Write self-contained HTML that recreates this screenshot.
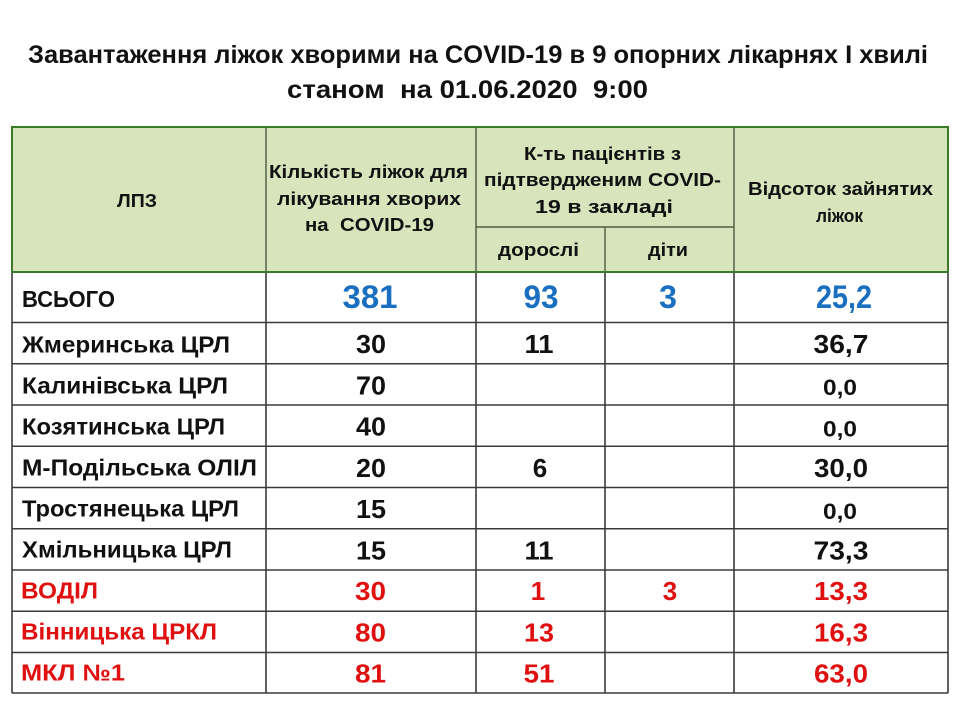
<!DOCTYPE html>
<html>
<head>
<meta charset="utf-8">
<style>
html,body{margin:0;padding:0;background:#fff;}
svg{display:block;}
text{font-family:"Liberation Sans","DejaVu Sans",sans-serif;font-weight:bold;white-space:pre;}
</style>
</head>
<body>
<svg width="960" height="720" viewBox="0 0 960 720" xmlns="http://www.w3.org/2000/svg">
<rect x="0" y="0" width="960" height="720" fill="#fff"/>

<!-- Title -->
<text x="28" y="63" font-size="25" fill="#111" textLength="900" lengthAdjust="spacingAndGlyphs">Завантаження ліжок хворими на COVID-19 в 9 опорних лікарнях І хвилі</text>
<text x="287" y="98" font-size="25" fill="#111" textLength="361" lengthAdjust="spacingAndGlyphs">станом  на 01.06.2020  9:00</text>

<!-- Header background -->
<rect x="12" y="127" width="936" height="145" fill="#d8e4bc"/>

<!-- Body grid -->
<g stroke="#3a3a3a" stroke-width="1.6" fill="none">
  <line x1="12" y1="322.5" x2="948" y2="322.5"/>
  <line x1="12" y1="363.75" x2="948" y2="363.75"/>
  <line x1="12" y1="405" x2="948" y2="405"/>
  <line x1="12" y1="446.25" x2="948" y2="446.25"/>
  <line x1="12" y1="487.5" x2="948" y2="487.5"/>
  <line x1="12" y1="528.75" x2="948" y2="528.75"/>
  <line x1="12" y1="570" x2="948" y2="570"/>
  <line x1="12" y1="611.25" x2="948" y2="611.25"/>
  <line x1="12" y1="652.5" x2="948" y2="652.5"/>
  <line x1="12" y1="693" x2="948" y2="693"/>
  <line x1="12" y1="272" x2="12" y2="693"/>
  <line x1="266" y1="272" x2="266" y2="693"/>
  <line x1="476" y1="272" x2="476" y2="693"/>
  <line x1="605" y1="272" x2="605" y2="693"/>
  <line x1="734" y1="272" x2="734" y2="693"/>
  <line x1="948" y1="272" x2="948" y2="693"/>
</g>

<!-- Header inner lines -->
<g stroke="#4a5a40" stroke-width="1.4" fill="none">
  <line x1="266" y1="127" x2="266" y2="272"/>
  <line x1="476" y1="127" x2="476" y2="272"/>
  <line x1="734" y1="127" x2="734" y2="272"/>
  <line x1="605" y1="227" x2="605" y2="272"/>
  <line x1="476" y1="227" x2="734" y2="227"/>
</g>
<!-- Header outer green border -->
<rect x="12" y="127" width="936" height="145" fill="none" stroke="#3b7a27" stroke-width="2"/>

<!-- Header text -->
<g fill="#111" font-size="18.5">
  <text x="117" y="207" textLength="40" lengthAdjust="spacingAndGlyphs">ЛПЗ</text>
  <text x="269" y="178" textLength="199" lengthAdjust="spacingAndGlyphs">Кількість ліжок для</text>
  <text x="277" y="205" textLength="184" lengthAdjust="spacingAndGlyphs">лікування хворих</text>
  <text x="305" y="231" textLength="129" lengthAdjust="spacingAndGlyphs">на  COVID-19</text>
  <text x="524" y="160" textLength="157" lengthAdjust="spacingAndGlyphs">К-ть пацієнтів з</text>
  <text x="484" y="186" textLength="237" lengthAdjust="spacingAndGlyphs">підтвердженим COVID-</text>
  <text x="535" y="213" textLength="138" lengthAdjust="spacingAndGlyphs">19 в закладі</text>
  <text x="498" y="256" textLength="81" lengthAdjust="spacingAndGlyphs">дорослі</text>
  <text x="648" y="256" textLength="40" lengthAdjust="spacingAndGlyphs">діти</text>
  <text x="748" y="195" textLength="185" lengthAdjust="spacingAndGlyphs">Відсоток зайнятих</text>
  <text x="816" y="222" textLength="47" lengthAdjust="spacingAndGlyphs">ліжок</text>
</g>

<!-- Row names -->
<g fill="#111" font-size="23">
  <text x="22" y="307" textLength="93" lengthAdjust="spacingAndGlyphs">ВСЬОГО</text>
  <text x="22" y="352.5" textLength="208" lengthAdjust="spacingAndGlyphs">Жмеринська ЦРЛ</text>
  <text x="22" y="393.5" textLength="206" lengthAdjust="spacingAndGlyphs">Калинівська ЦРЛ</text>
  <text x="22" y="434.5" textLength="203" lengthAdjust="spacingAndGlyphs">Козятинська ЦРЛ</text>
  <text x="22" y="475.5" textLength="235" lengthAdjust="spacingAndGlyphs">М-Подільська ОЛІЛ</text>
  <text x="22" y="516.5" textLength="217" lengthAdjust="spacingAndGlyphs">Тростянецька ЦРЛ</text>
  <text x="22" y="557.5" textLength="210" lengthAdjust="spacingAndGlyphs">Хмільницька ЦРЛ</text>
</g>
<g fill="#e01010" font-size="23">
  <text x="21" y="598.5" textLength="77" lengthAdjust="spacingAndGlyphs">ВОДІЛ</text>
  <text x="21" y="639.5" textLength="196" lengthAdjust="spacingAndGlyphs">Вінницька ЦРКЛ</text>
  <text x="21" y="680.5" textLength="104" lengthAdjust="spacingAndGlyphs">МКЛ №1</text>
</g>

<!-- Totals (blue) -->
<g fill="#1a6fc0" font-size="32" text-anchor="middle">
  <text x="370" y="308" textLength="55" lengthAdjust="spacingAndGlyphs">381</text>
  <text x="541" y="308" textLength="35" lengthAdjust="spacingAndGlyphs">93</text>
  <text x="668" y="308">3</text>
  <text x="844" y="308" textLength="56" lengthAdjust="spacingAndGlyphs">25,2</text>
</g>

<!-- Black numbers -->
<g fill="#111" font-size="26" text-anchor="middle">
  <text x="371" y="353" textLength="30" lengthAdjust="spacingAndGlyphs">30</text>
  <text x="539" y="353" textLength="29" lengthAdjust="spacingAndGlyphs">11</text>
  <text x="841" y="353" textLength="55" lengthAdjust="spacingAndGlyphs">36,7</text>

  <text x="371" y="394.25" textLength="30" lengthAdjust="spacingAndGlyphs">70</text>
  <text x="371" y="435.5" textLength="30" lengthAdjust="spacingAndGlyphs">40</text>

  <text x="371" y="476.75" textLength="30" lengthAdjust="spacingAndGlyphs">20</text>
  <text x="540" y="476.75">6</text>
  <text x="841" y="476.75" textLength="54" lengthAdjust="spacingAndGlyphs">30,0</text>

  <text x="371" y="518" textLength="30" lengthAdjust="spacingAndGlyphs">15</text>

  <text x="371" y="559.25" textLength="30" lengthAdjust="spacingAndGlyphs">15</text>
  <text x="539" y="559.25" textLength="29" lengthAdjust="spacingAndGlyphs">11</text>
  <text x="841" y="559.25" textLength="55" lengthAdjust="spacingAndGlyphs">73,3</text>
</g>
<g fill="#111" font-size="22" text-anchor="middle">
  <text x="840" y="395" textLength="34" lengthAdjust="spacingAndGlyphs">0,0</text>
  <text x="840" y="436.25" textLength="34" lengthAdjust="spacingAndGlyphs">0,0</text>
  <text x="840" y="518.75" textLength="34" lengthAdjust="spacingAndGlyphs">0,0</text>
</g>

<!-- Red numbers -->
<g fill="#e01010" font-size="26" text-anchor="middle">
  <text x="370.5" y="600" textLength="31" lengthAdjust="spacingAndGlyphs">30</text>
  <text x="538" y="600">1</text>
  <text x="670" y="600">3</text>
  <text x="841" y="600" textLength="54" lengthAdjust="spacingAndGlyphs">13,3</text>

  <text x="370.5" y="641.25" textLength="31" lengthAdjust="spacingAndGlyphs">80</text>
  <text x="539" y="641.25" textLength="30" lengthAdjust="spacingAndGlyphs">13</text>
  <text x="841" y="641.25" textLength="54" lengthAdjust="spacingAndGlyphs">16,3</text>

  <text x="370.5" y="682.5" textLength="31" lengthAdjust="spacingAndGlyphs">81</text>
  <text x="539" y="682.5" textLength="31" lengthAdjust="spacingAndGlyphs">51</text>
  <text x="841" y="682.5" textLength="54" lengthAdjust="spacingAndGlyphs">63,0</text>
</g>
</svg>
</body>
</html>
